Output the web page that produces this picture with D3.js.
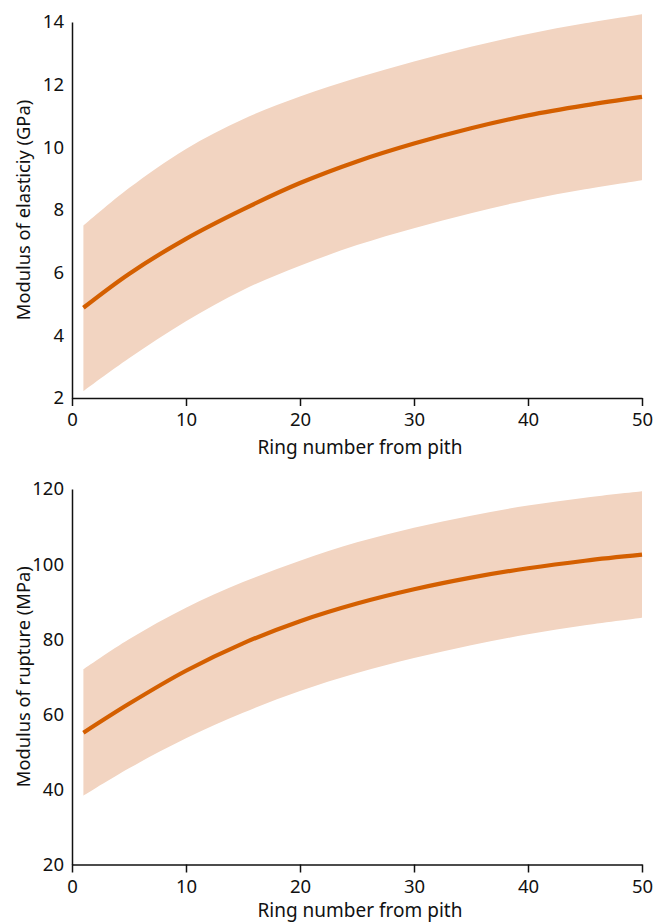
<!DOCTYPE html>
<html><head><meta charset="utf-8">
<script src="https://cdn.jsdelivr.net/npm/d3@7"></script>
<style>body{margin:0;background:#fff}svg{display:block}text{font-family:"Noto Sans","Open Sans",sans-serif;fill:#111}</style>
</head><body>
<svg id="c" width="656" height="923"></svg>
<script>
const rings = [1,5,10,15,20,25,30,35,40,45,50];
const moeMean  = [4.88,5.96,7.08,8.02,8.86,9.55,10.12,10.61,11.02,11.34,11.61];
const moeUpper = [7.50,8.70,9.95,10.90,11.62,12.22,12.74,13.21,13.62,13.96,14.25];
const moeLower = [2.22,3.27,4.45,5.45,6.22,6.88,7.42,7.90,8.32,8.66,8.95];
const morMean  = [55.1,62.8,71.6,78.9,84.8,89.5,93.3,96.4,98.9,100.9,102.5];
const morUpper = [72.0,80.0,88.4,95.2,100.9,105.8,109.7,112.9,115.6,117.7,119.4];
const morLower = [38.3,45.6,53.6,60.4,66.2,71.0,75.0,78.4,81.3,83.7,85.7];
const xTicks = [0,10,20,30,40,50];
const moeTicks = [2,4,6,8,10,12,14];
const morTicks = [20,40,60,80,100,120];
const xTitle = "Ring number from pith";
const panels = [
  {mean:moeMean, up:moeUpper, lo:moeLower, ticks:moeTicks, dom:[2,14], range:[398,22], title:"Modulus of elasticiy (GPa)", tx:29.5, xt:56},
  {mean:morMean, up:morUpper, lo:morLower, ticks:morTicks, dom:[20,120], range:[864.5,489], title:"Modulus of rupture (MPa)", tx:30, xt:52}
];
const svg = d3.select("#c");
const x = d3.scaleLinear().domain([0,50]).range([72,642]);
const curve = d3.curveCatmullRom.alpha(0.5);
panels.forEach(p=>{
  const y = d3.scaleLinear().domain(p.dom).range(p.range);
  const g = svg.append("g");
  const pts = rings.map((r,i)=>({r, m:p.mean[i], u:p.up[i], l:p.lo[i]}));
  g.append("path").datum(pts)
    .attr("d", d3.area().x(d=>x(d.r)).y0(d=>y(d.l)).y1(d=>y(d.u)).curve(curve))
    .attr("fill","#f2d4c1");
  g.append("path").datum(pts)
    .attr("d", d3.line().x(d=>x(d.r)).y(d=>y(d.m)).curve(curve))
    .attr("fill","none").attr("stroke","#d45f00").attr("stroke-width",4.2);
  const y0 = p.range[0];
  const xa = g.append("g").attr("transform",`translate(0,${y0})`)
    .call(d3.axisBottom(x).tickValues(xTicks).tickSize(8).tickSizeOuter(0).tickPadding(7));
  xa.select(".domain").attr("stroke","#111").attr("stroke-width",1.5);
  xa.selectAll(".tick line").attr("stroke","#111").attr("stroke-width",1.5);
  xa.selectAll("text").attr("font-size",18.5).style("font-family",'"Noto Sans",sans-serif').attr("fill","#111");
  const ya = g.append("g").attr("transform","translate(72,0)")
    .call(d3.axisLeft(y).tickValues(p.ticks).tickSize(0).tickPadding(8));
  ya.select(".domain").attr("stroke","#111").attr("stroke-width",1.5);
  ya.selectAll("text").attr("font-size",18.5).style("font-family",'"Noto Sans",sans-serif').attr("fill","#111");
  g.append("text").attr("x",360).attr("y",y0+p.xt).attr("text-anchor","middle")
    .attr("font-size",19).text(xTitle);
  const cy = (p.range[0]+p.range[1])/2;
  g.append("text").attr("transform",`translate(${p.tx},${cy}) rotate(-90)`)
    .attr("text-anchor","middle").attr("font-size",18.3).text(p.title);
});
</script>
</body></html>
